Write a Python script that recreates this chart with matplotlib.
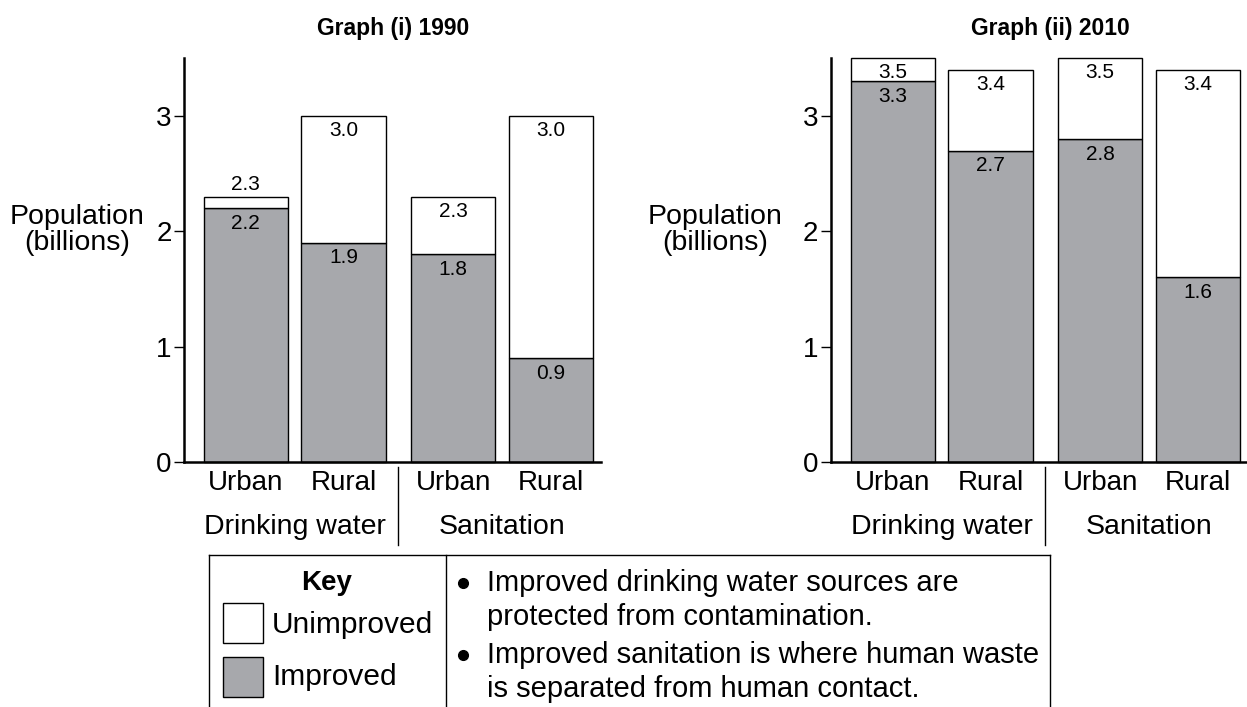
import matplotlib.pyplot as plt
from matplotlib.lines import Line2D
from matplotlib.patches import Rectangle

plt.rcParams['font.family'] = ['Liberation Sans', 'DejaVu Sans']

# Data
categories = ['Urban', 'Rural', 'Urban', 'Rural']
groups = ['Drinking water', 'Sanitation']
improved_1990 = [2.2, 1.9, 1.8, 0.9]
total_1990 = [2.3, 3.0, 2.3, 3.0]
improved_2010 = [3.3, 2.7, 2.8, 1.6]
total_2010 = [3.5, 3.4, 3.5, 3.4]

gray = '#a7a8ac'
W, H = 1247, 707
fig = plt.figure(figsize=(W / 100, H / 100), dpi=100)

xpos = [0, 1, 2.12, 3.12]


def draw(ax, improved, total):
    unimproved = [t - i for t, i in zip(total, improved)]
    ax.bar(xpos, improved, width=0.86, color=gray, edgecolor='black', linewidth=1.0,
           clip_on=False)
    ax.bar(xpos, unimproved, bottom=improved, width=0.86, color='white',
           edgecolor='black', linewidth=1.0, clip_on=False)
    for x, i, t in zip(xpos, improved, total):
        if t - i < 0.15:
            ax.annotate(f'{t:.1f}', (x, t), xytext=(0, 2), textcoords='offset points',
                        ha='center', va='bottom', fontsize=15, annotation_clip=False)
        else:
            ax.annotate(f'{t:.1f}', (x, t), xytext=(0, -3.5), textcoords='offset points',
                        ha='center', va='top', fontsize=15, annotation_clip=False)
        ax.annotate(f'{i:.1f}', (x, i), xytext=(0, -4), textcoords='offset points',
                    ha='center', va='top', fontsize=15)
    ax.set_xlim(-0.63, 3.63)
    ax.set_ylim(0, 3.5)
    ax.set_yticks([0, 1, 2, 3])
    ax.set_xticks([])
    ax.tick_params(axis='y', labelsize=20, length=7, width=1.0, pad=2)
    for s in ['top', 'right']:
        ax.spines[s].set_visible(False)
    ax.spines['left'].set_linewidth(1.8)
    ax.spines['bottom'].set_linewidth(1.8)
    tr = ax.get_xaxis_transform()
    for x, c in zip(xpos, categories):
        ax.text(x, -0.052, c, transform=tr, ha='center', va='center', fontsize=20)
    ax.text((xpos[0] + xpos[1]) / 2, -0.162, groups[0], transform=tr,
            ha='center', va='center', fontsize=20.5)
    ax.text((xpos[2] + xpos[3]) / 2, -0.162, groups[1], transform=tr,
            ha='center', va='center', fontsize=20.5)
    sep = (xpos[1] + xpos[2]) / 2
    ax.plot([sep, sep], [-0.012, -0.206], transform=tr, color='black',
            linewidth=1.0, clip_on=False)


ax1 = fig.add_axes([184 / W, 1 - 462 / H, 417 / W, 403.6 / H])
draw(ax1, improved_1990, total_1990)
ax2 = fig.add_axes([831 / W, 1 - 462 / H, 417 / W, 403.6 / H])
draw(ax2, improved_2010, total_2010)

fig.text(393 / W, 1 - 28 / H, 'Graph (i) 1990', ha='center', va='center',
         fontsize=16.5, fontweight='bold')
fig.text(1050 / W, 1 - 28 / H, 'Graph (ii) 2010', ha='center', va='center',
         fontsize=16.5, fontweight='bold')
for xc in [77, 715]:
    fig.text(xc / W, 1 - 230 / H, 'Population\n(billions)', ha='center',
             va='center', fontsize=20.5, linespacing=1.05)

# key box
def fline(xs, ys):
    fig.add_artist(Line2D([x / W for x in xs], [1 - y / H for y in ys],
                          color='black', linewidth=1.0))

fline([209, 1050], [555, 555])
fline([209, 209], [555, 707])
fline([446, 446], [555, 707])
fline([1050, 1050], [555, 707])

fig.text(327 / W, 1 - 583 / H, 'Key', ha='center', va='center', fontsize=20,
         fontweight='bold')
fig.add_artist(Rectangle((223 / W, 1 - 643 / H), 40 / W, 40 / H, facecolor='white',
                         edgecolor='black', linewidth=1.0, transform=fig.transFigure))
fig.add_artist(Rectangle((223 / W, 1 - 697 / H), 40 / W, 40 / H, facecolor=gray,
                         edgecolor='black', linewidth=1.0, transform=fig.transFigure))
fig.text(272 / W, 1 - 625 / H, 'Unimproved', ha='left', va='center', fontsize=21.5)
fig.text(272 / W, 1 - 677 / H, 'Improved', ha='left', va='center', fontsize=21.5)

notes = ['Improved drinking water sources are', 'protected from contamination.',
         'Improved sanitation is where human waste', 'is separated from human contact.']
for k, (line, y) in enumerate(zip(notes, [583, 617, 655, 689])):
    if k % 2 == 0:
        fig.add_artist(Line2D([463 / W], [1 - y / H], marker='o', markersize=7,
                              color='black', linestyle='none'))
    fig.text(487 / W, 1 - y / H, line, ha='left', va='center', fontsize=21)

fig.savefig('out.png', dpi=100)
